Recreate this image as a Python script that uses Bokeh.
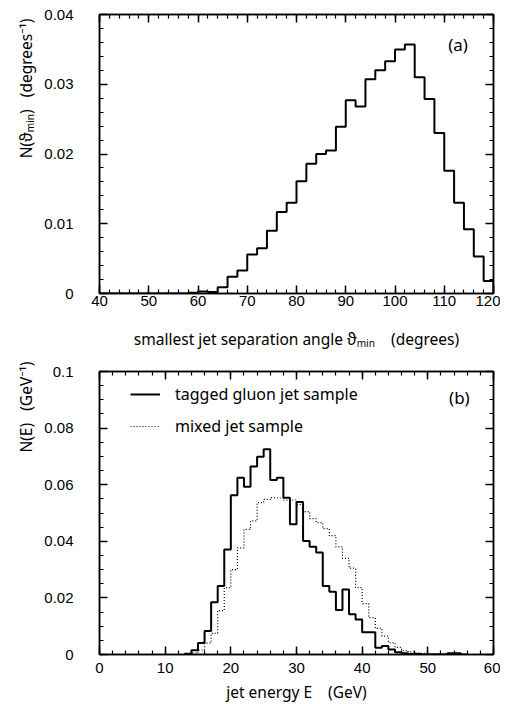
import numpy as np
from bokeh.plotting import figure
from bokeh.layouts import column
from bokeh.models import (Range1d, LinearAxis, SingleIntervalTicker, CustomJSTickFormatter,
                          Label, Legend, LegendItem, Title)
from bokeh.embed import file_html
from bokeh.resources import INLINE

# ---------------- data: panel (a) ----------------
angle_bin_start = 40
angle_bin_width = 2
angle_density = [0, 0, 0, 0, 0, 0, 0, 0, 0,          # 40 .. 58
                 0.0001, 0.0003, 0.0002, 0.0009,      # 58 .. 66
                 0.0024, 0.0033, 0.0056, 0.0065,      # 66 .. 74
                 0.0090, 0.0117, 0.0130, 0.0161,      # 74 .. 82
                 0.0186, 0.0200, 0.0205, 0.0239,      # 82 .. 90
                 0.0277, 0.0268, 0.0307, 0.0320,      # 90 .. 98
                 0.0333, 0.0350, 0.0357, 0.0310,      # 98 .. 106
                 0.0279, 0.0230, 0.0176, 0.0130,      # 106 .. 114
                 0.0092, 0.0053, 0.0018]              # 114 .. 120

# ---------------- data: panel (b) ----------------
energy_bin_start = 13
energy_bin_width = 1
gluon_density = [0.0003, 0.0015, 0.0041, 0.0083, 0.0185, 0.0242, 0.0371,   # 13 .. 20
                 0.0563, 0.0625, 0.0593, 0.0664, 0.0699, 0.0725, 0.0617,   # 20 .. 27
                 0.0625, 0.0554, 0.0460, 0.0539, 0.0401, 0.0381, 0.0360,   # 27 .. 34
                 0.0242, 0.0222, 0.0157, 0.0230, 0.0142, 0.0124, 0.0079,   # 34 .. 41
                 0.0079, 0.0024, 0.0030, 0.0018, 0.0008, 0.0004, 0.0002,   # 41 .. 48
                 0.0002, 0, 0, 0, 0, 0.0004, 0.0004, 0]                    # 48 .. 56
mixed_density = [0.0002, 0.0005, 0.0015, 0.0040, 0.0075, 0.0155, 0.0236,   # 13 .. 20
                 0.0300, 0.0377, 0.0442, 0.0472, 0.0537, 0.0548, 0.0554,   # 20 .. 27
                 0.0553, 0.0545, 0.0546, 0.0530, 0.0505, 0.0480, 0.0466,   # 27 .. 34
                 0.0445, 0.0420, 0.0380, 0.0340, 0.0305, 0.0236, 0.0180,   # 34 .. 41
                 0.0130, 0.0092, 0.0065, 0.0042, 0.0025, 0.0014, 0.0009,   # 41 .. 48
                 0.0006, 0.0004, 0.0003, 0.0002, 0.0001, 0, 0, 0]          # 48 .. 56

series_labels = ["tagged gluon jet sample", "mixed jet sample"]

TICK_FONT = "Liberation Sans"
TITLE_FONT = "Noto Sans"
TITLE_SIZE = "15.5px"


def step_xy(start, width, vals):
    edges = [start + i * width for i in range(len(vals) + 1)]
    xs = [edges[0]] + edges
    ys = [0] + list(vals) + [0]
    return xs, ys


def style_axis(ax, standoff):
    ax.axis_line_width = 1.5
    ax.axis_line_color = "black"
    ax.major_tick_line_width = 1.5
    ax.minor_tick_line_width = 1.2
    ax.major_tick_in = 8
    ax.major_tick_out = 0
    ax.minor_tick_in = 4
    ax.minor_tick_out = 0
    ax.major_label_text_font = TICK_FONT
    ax.major_label_text_font_size = "15px"
    ax.major_label_text_color = "black"
    ax.major_label_standoff = standoff
    ax.axis_label_text_font = TITLE_FONT
    ax.axis_label_text_font_style = "normal"
    ax.axis_label_text_font_size = TITLE_SIZE
    ax.axis_label_text_color = "black"


def make_panel(xr, yr, xint, xminor, yint, yminor, fh, top, bottom, xstand, xlabstand,
               xlabel, ylabel, yoffset):
    p = figure(frame_width=394, frame_height=fh, x_range=Range1d(*xr), y_range=Range1d(*yr),
               output_backend="svg", toolbar_location=None,
               min_border_left=99, min_border_right=7, min_border_top=top,
               min_border_bottom=bottom, background_fill_color="white",
               border_fill_color="white", outline_line_color="black", outline_line_width=1.5)
    p.xgrid.visible = False
    p.ygrid.visible = False
    xt = SingleIntervalTicker(interval=xint, num_minor_ticks=xminor)
    yt = SingleIntervalTicker(interval=yint, num_minor_ticks=yminor)
    bottom_ax = p.below[0]
    left_ax = p.left[0]
    bottom_ax.ticker = xt
    left_ax.ticker = yt
    left_ax.formatter = CustomJSTickFormatter(code="return String(parseFloat(tick.toFixed(3)));")
    style_axis(bottom_ax, xstand)
    bottom_ax.axis_label = xlabel
    bottom_ax.axis_label_standoff = xlabstand
    style_axis(left_ax, 26)
    top_ax = LinearAxis(ticker=xt, formatter=CustomJSTickFormatter(code="return '';"))
    right_ax = LinearAxis(ticker=yt, formatter=CustomJSTickFormatter(code="return '';"))
    for ax in (top_ax, right_ax):
        style_axis(ax, 0)
        ax.major_label_text_font_size = "1px"
    p.add_layout(top_ax, "above")
    p.add_layout(right_ax, "right")
    p.add_layout(Title(text=ylabel, align="right", offset=yoffset, standoff=10,
                       text_font=TITLE_FONT, text_font_size=TITLE_SIZE,
                       text_font_style="normal", text_color="black"), "left")
    return p


# ---------------- panel (a) ----------------
p1 = make_panel((40, 120), (0, 0.04), 10, 5, 0.01, 5, 279, 14, 57, 2, 19,
                "smallest jet separation angle ϑₘᵢₙ\u00a0\u00a0\u00a0 (degrees)",
                "N(ϑₘᵢₙ)\u00a0\u00a0 (degrees⁻¹)", 4)
ax_, ay_ = step_xy(angle_bin_start, angle_bin_width, angle_density)
p1.step(ax_, ay_, mode="after", line_color="black", line_width=2)
p1.add_layout(Label(x=112.8, y=0.0357, text="(a)", text_align="center",
                    text_baseline="middle", text_font=TITLE_FONT, text_font_size="17px",
                    text_color="black"))

# ---------------- panel (b) ----------------
p2 = make_panel((0, 60), (0, 0.1), 10, 5, 0.02, 4, 283, 19, 46, 8, 5,
                "jet energy E\u00a0\u00a0\u00a0 (GeV)", "N(E)\u00a0\u00a0 (GeV⁻¹)", -10)
gx, gy = step_xy(energy_bin_start, energy_bin_width, gluon_density)
mx, my = step_xy(energy_bin_start, energy_bin_width, mixed_density)
r_mixed = p2.step(mx, my, mode="after", line_color="black", line_width=1.2, line_dash="1 2")
r_gluon = p2.step(gx, gy, mode="after", line_color="black", line_width=2)
p2.add_layout(Label(x=54.8, y=0.0908, text="(b)", text_align="center",
                    text_baseline="middle", text_font=TITLE_FONT, text_font_size="17px",
                    text_color="black"))
legend = Legend(items=[LegendItem(label=series_labels[0], renderers=[r_gluon]),
                       LegendItem(label=series_labels[1], renderers=[r_mixed])],
                location=(31, 217), glyph_width=30, glyph_height=20, label_height=20,
                label_standoff=15, spacing=10, padding=0, margin=0,
                border_line_color=None, background_fill_alpha=0,
                label_text_font=TITLE_FONT, label_text_font_size="16px",
                label_text_color="black")
p2.add_layout(legend)

layout = column(p1, p2, spacing=0)
open("out.html", "w").write(file_html(layout, INLINE))
